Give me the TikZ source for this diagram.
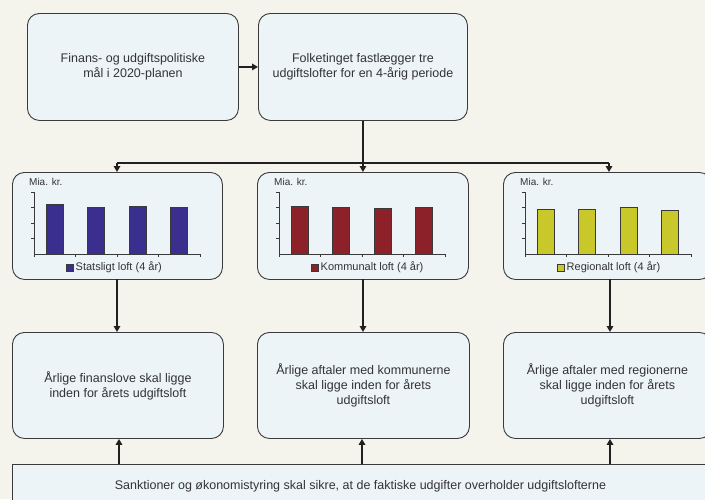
\documentclass[tikz,border=0pt]{standalone}
\usepackage{fontspec}
\setmainfont{Liberation Sans}
\usetikzlibrary{arrows.meta}
\definecolor{bgc}{HTML}{F5F4EC}
\definecolor{boxfill}{HTML}{EDF4F8}
\definecolor{boxline}{HTML}{3A3A3A}
\definecolor{conncol}{HTML}{231F20}
\definecolor{txt}{HTML}{333333}
\definecolor{barblue}{HTML}{3A2F8E}
\definecolor{barred}{HTML}{8C2129}
\definecolor{baryellow}{HTML}{C9C82B}
\tikzset{
  box/.style={draw=boxline, fill=boxfill, rounded corners=12pt, line width=0.9pt,
    text=txt, align=center, inner sep=0pt, font=\fontsize{12.5}{15}\selectfont},
  conn/.style={draw=conncol, line width=1.8pt},
  arr/.style={conn, -{Triangle[length=6pt,width=6.5pt]}},
  axisline/.style={draw=boxline, line width=0.8pt},
  barbox/.style={draw=boxline, line width=0.7pt},
  mia/.style={text=txt, inner sep=0pt, font=\fontsize{10}{12}\selectfont},
  leg/.style={text=txt, inner sep=0pt, font=\fontsize{11}{13}\selectfont},
}
% #1 left x, #2 name, #3 width, #4 colour, #5-#8 bar tops, #9 legend text
\newcommand\mychart[9]{%
  \node[box, anchor=north west, minimum width=#3, minimum height=107] (#2) at (#1,172) {};
  \begin{scope}[shift={(#1,0)}]
    \node[mia, anchor=west] (#2mia) at (17,182) {Mia. kr.};
    \draw[axisline] (22,192) -- (22,254) -- (188,254);
    \foreach \yy in {192,207.5,223,238.5} \draw[axisline] (19,\yy) -- (22,\yy);
    \foreach \xx in {22,63.5,105,146.5,188} \draw[axisline] (\xx,254) -- (\xx,257);
    \foreach \xx/\tt in {34.25/#5,75.75/#6,117.25/#7,158.75/#8}
      \draw[barbox, fill=#4] (\xx,254) rectangle (\xx+17,\tt);
    \draw[barbox, fill=#4] (54,264) rectangle (61,271);
    \node[leg, anchor=west] (#2leg) at (63.5,267.5) {#9};
  \end{scope}}
\begin{document}
\begin{tikzpicture}[x=1pt, y=-1pt]
\useasboundingbox (0,0) rectangle (705,499);
\clip (0,0) rectangle (705,499);
\fill[bgc] (0,0) rectangle (705,499);

\node[box, anchor=north west, minimum width=211, minimum height=107] (fin) at (27,13)
  {Finans- og udgiftspolitiske\\mål i 2020-planen};
\node[box, anchor=north west, minimum width=209, minimum height=107] (fol) at (258,13)
  {Folketinget fastlægger tre\\udgiftslofter for en 4-årig periode};

\mychart{12}{c1}{210}{barblue}{204}{207}{206}{207}{Statsligt loft (4 år)}
\mychart{257}{c2}{211}{barred}{206}{207}{208}{207}{Kommunalt loft (4 år)}
\mychart{503}{c3}{208}{baryellow}{209}{209}{207}{210}{Regionalt loft (4 år)}

\node[box, anchor=north west, minimum width=211, minimum height=106] (a1) at (12,332)
  {Årlige finanslove skal ligge\\inden for årets udgiftsloft};
\node[box, anchor=north west, minimum width=212, minimum height=106] (a2) at (257,332)
  {Årlige aftaler med kommunerne\\skal ligge inden for årets\\udgiftsloft};
\node[box, anchor=north west, minimum width=208, minimum height=106] (a3) at (503,332)
  {Årlige aftaler med regionerne\\skal ligge inden for årets\\udgiftsloft};

\node[box, rounded corners=0pt, anchor=north west, minimum width=696, minimum height=44] (bot) at (12,464)
  {Sanktioner og økonomistyring skal sikre, at de faktiske udgifter overholder udgiftslofterne};

% connectors
\draw[arr] (fin.east) -- (fol.west);
\coordinate (jm) at (fol.south |- 0,163);
\coordinate (jl) at (117,163);
\coordinate (jr) at (609,163);
\draw[arr] (fol.south) -- (fol.south |- c2.north);
\draw[conn] (jl) -- (jr);
\draw[arr] (jl) -- (jl |- c1.north);
\draw[arr] (jr) -- (jr |- c3.north);

\coordinate (d1) at (117,279);
\coordinate (d2) at (363,279);
\coordinate (d3) at (610,279);
\draw[arr] (d1) -- (d1 |- a1.north);
\draw[arr] (d2) -- (d2 |- a2.north);
\draw[arr] (d3) -- (d3 |- a3.north);

\coordinate (u1) at (119,464);
\coordinate (u2) at (362,464);
\coordinate (u3) at (610,464);
\draw[arr] (u1) -- (u1 |- a1.south);
\draw[arr] (u2) -- (u2 |- a2.south);
\draw[arr] (u3) -- (u3 |- a3.south);
\end{tikzpicture}
\end{document}
